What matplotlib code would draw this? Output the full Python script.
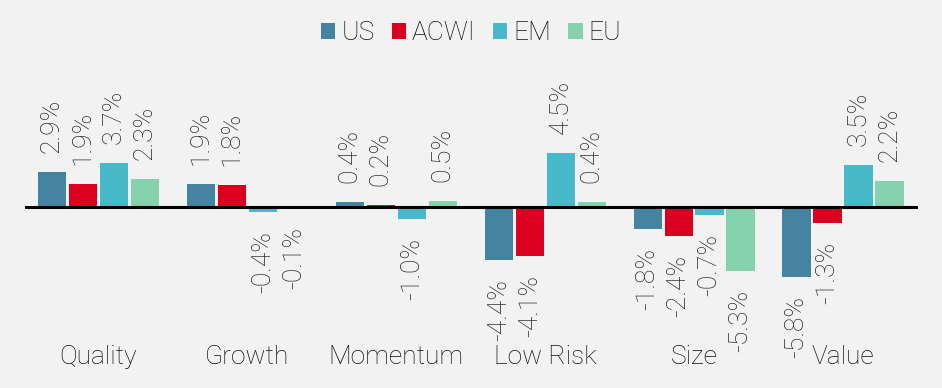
import numpy as np
import matplotlib.pyplot as plt
import matplotlib.transforms as mtransforms
from matplotlib.patches import Patch

# factor categories and series values (%)
categories = ["Quality", "Growth", "Momentum", "Low Risk", "Size", "Value"]
series_names = ["US", "ACWI", "EM", "EU"]
us = [2.9, 1.9, 0.4, -4.4, -1.8, -5.8]
acwi = [1.9, 1.8, 0.2, -4.1, -2.4, -1.3]
em = [3.7, -0.4, -1.0, 4.5, -0.7, 3.5]
eu = [2.3, -0.1, 0.5, 0.4, -5.3, 2.2]
colors = ["#4484a0", "#db0020", "#48b9c9", "#86d1ae"]

plt.rcParams["font.family"] = ["Roboto", "DejaVu Sans"]
bg = "#f2f2f2"

fig = plt.figure(figsize=(9.42, 3.88), dpi=100, facecolor=bg)
ax = fig.add_axes([25 / 942, 48 / 388, 893 / 942, 280 / 388])
ax.set_facecolor(bg)

x = np.arange(len(categories))
step = 0.208
width = 0.19
for k, (vals, c) in enumerate(zip([us, acwi, em, eu], colors)):
    pos = x + (k - 1.5) * step
    ax.bar(pos, vals, width=width, color=c, zorder=2)
    for xp, v in zip(pos, vals):
        off = 19 if v >= 0 else -19
        ax.annotate(f"{v:.1f}%", (xp, v), xytext=(0, off), textcoords="offset pixels",
                    rotation=90, ha="center", va="bottom" if v >= 0 else "top",
                    fontsize=19, fontweight="light", color="#262626")

ax.axhline(0, color="black", lw=2.2, zorder=3)
ax.set_xlim(-0.493, 5.503)
ax.set_ylim(-(340 - 207) / 12, (207 - 60) / 12)
ax.axis("off")

# category labels under the groups
trans = mtransforms.blended_transform_factory(ax.transData, fig.transFigure)
for xi, name in zip(x, categories):
    ax.text(xi, 1 - 357 / 388, name, transform=trans, ha="center", va="center",
            fontsize=19, fontweight="light", color="#111111")

handles = [Patch(facecolor=c, label=n) for n, c in zip(series_names, colors)]
fig.legend(handles=handles, loc="center", bbox_to_anchor=(0.5, 1 - 33 / 388), ncol=4,
           frameon=False, handlelength=0.55, handleheight=0.55, handletextpad=0.22,
           columnspacing=0.65, labelcolor="#111111",
           prop={"size": 19, "weight": "light"})

fig.savefig("out.png", dpi=100, facecolor=bg)
